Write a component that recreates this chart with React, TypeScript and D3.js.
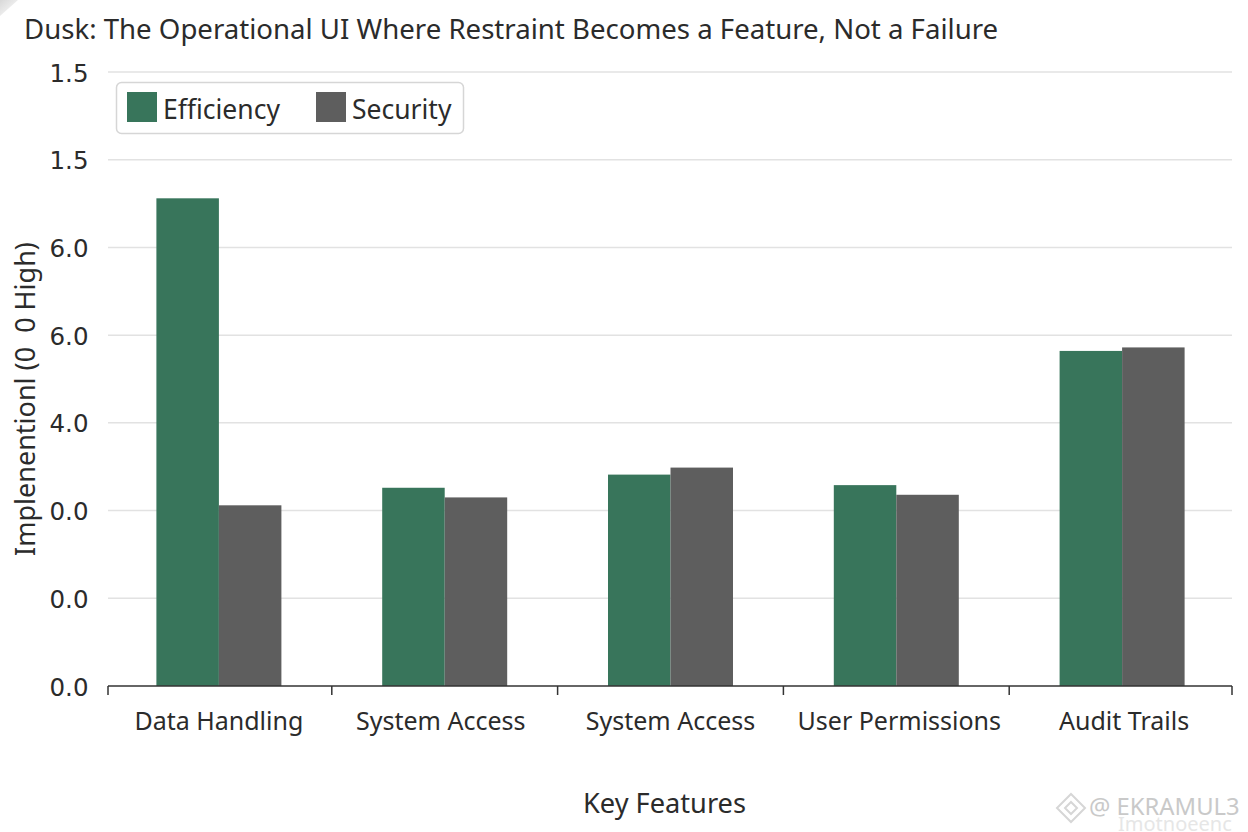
import React from "react";
import * as d3 from "d3";

const titleText = "Dusk: The Operational UI Where Restraint Becomes a Feature, Not a Failure";
const categories = ["Data Handling", "System Access", "System Access ", "User Permissions", "Audit Trails"];
const categoryLabels = ["Data Handling", "System Access", "System Access", "User Permissions", "Audit Trails"];
const efficiency = [5.56, 2.26, 2.41, 2.29, 3.82];
const security = [2.06, 2.15, 2.49, 2.18, 3.86];
const tickValues = [0, 1, 2, 3, 4, 5, 6, 7];
const tickLabels = ["0.0", "0.0", "0.0", "4.0", "6.0", "6.0", "1.5", "1.5"];
const seriesNames = ["Efficiency", "Security"];
const seriesColors = ["#38755b", "#5e5e5e"];
const labelNudge = [0, -4, 0, 3, 2];

const F = "'DejaVu Sans', sans-serif";
const TF = "'Noto Sans', sans-serif";
const INK = "#2b2b2b";

export default function App() {
  const x = d3.scaleBand<string>().domain(categories).range([106, 1235]);
  const y = d3.scaleLinear().domain([0, 7]).range([686, 72]);
  const barW = 62.5;
  const cx = (c: string) => (x(c) as number) + x.bandwidth() / 2;
  const edges = [108, ...categories.slice(1).map((c) => x(c) as number), 1232];
  return (
    <svg width={1248} height={832} style={{ position: "absolute", left: 0, top: 0, background: "#fff" }}>
      <defs>
        <linearGradient id="corner" x1="0" y1="0" x2="1" y2="1">
          <stop offset="0" stopColor="#d8d8d8" />
          <stop offset="1" stopColor="#ffffff" />
        </linearGradient>
      </defs>
      <path d="M0 0H18L0 16Z" fill="url(#corner)" />
      <text x={24} y={39} fontFamily={TF} fontSize={27.6} fill={INK}>{titleText}</text>

      {tickValues.map((t, i) => (
        <g key={t}>
          {t > 0 && <line x1={108} x2={1232} y1={y(t)} y2={y(t)} stroke="#e2e2e2" strokeWidth={1.5} />}
          <text x={88.5} y={y(t) + 9.5} textAnchor="end" fontFamily={F} fontSize={24.5} fill={INK}>{tickLabels[i]}</text>
        </g>
      ))}

      {categories.map((c, i) => (
        <g key={c}>
          <rect x={cx(c) - barW} width={barW} y={y(efficiency[i])} height={y(0) - y(efficiency[i])} fill={seriesColors[0]} />
          <rect x={cx(c)} width={barW} y={y(security[i])} height={y(0) - y(security[i])} fill={seriesColors[1]} />
          <text x={cx(c) + labelNudge[i]} y={730} textAnchor="middle" fontFamily={TF} fontSize={25} fill={INK}>{categoryLabels[i]}</text>
        </g>
      ))}

      <line x1={108} x2={1232} y1={686} y2={686} stroke="#333" strokeWidth={1.5} />
      {edges.map((e) => (
        <line key={e} x1={e} x2={e} y1={686} y2={695} stroke="#333" strokeWidth={1.5} />
      ))}

      <text x={664.5} y={813} textAnchor="middle" fontFamily={TF} fontSize={27.2} fill={INK}>Key Features</text>
      <text transform="translate(35,399) rotate(-90)" textAnchor="middle" fontFamily={TF} fontSize={27} fill={INK} style={{ whiteSpace: "pre" }}>Implenentionl (0  0 High)</text>

      <rect x={116.5} y={82.5} width={347} height={51} rx={5} fill="#fff" stroke="#d6d6d6" strokeWidth={1.5} />
      <rect x={127} y={92} width={30} height={30} fill={seriesColors[0]} />
      <text x={163} y={119} fontFamily={TF} fontSize={26.5} fill={INK}>{seriesNames[0]}</text>
      <rect x={316} y={92} width={30} height={30} fill={seriesColors[1]} />
      <text x={352} y={119} fontFamily={TF} fontSize={26.5} fill={INK}>{seriesNames[1]}</text>

      <text x={1089} y={815} fontFamily={TF} fontSize={23.8} fill="#c9c9c9">@ EKRAMUL3</text>
      <text x={1118} y={831} fontFamily={TF} fontSize={20} fill="#e6e6e6">Imotnoeenc</text>
      <g fill="none" stroke="#d6d6d6" strokeWidth={2}>
        <path d="M1071 794l14 14-14 14-14-14z" />
        <path d="M1071 802l6 6-6 6-6-6z" />
      </g>
    </svg>
  );
}
